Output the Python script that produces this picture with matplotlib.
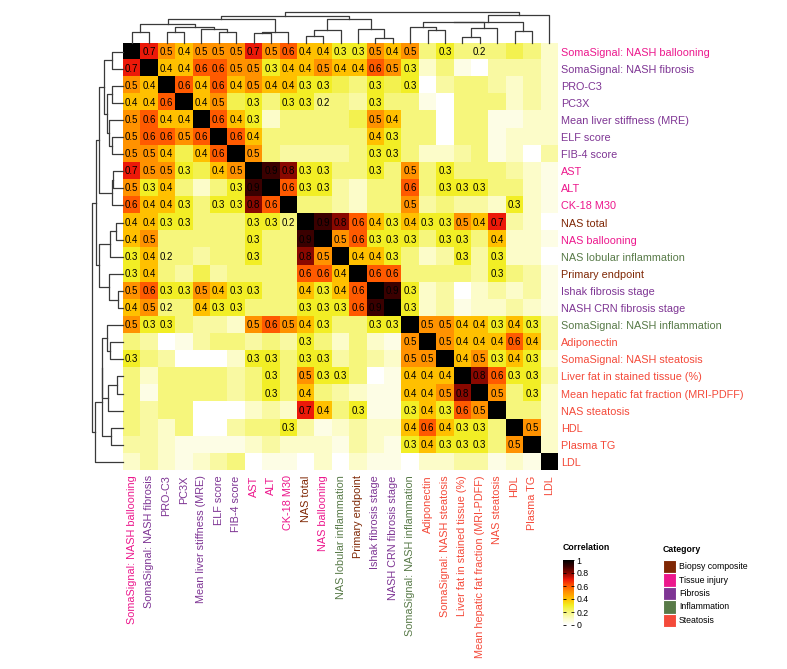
import numpy as np
import matplotlib
matplotlib.use('Agg')
import matplotlib.pyplot as plt
from matplotlib.colors import LinearSegmentedColormap, Normalize
from matplotlib.cm import ScalarMappable
from matplotlib.patches import Rectangle

plt.rcParams['font.family'] = ['Liberation Sans', 'DejaVu Sans']

labels = ['SomaSignal: NASH ballooning', 'SomaSignal: NASH fibrosis', 'PRO-C3', 'PC3X',
          'Mean liver stiffness (MRE)', 'ELF score', 'FIB-4 score', 'AST', 'ALT', 'CK-18 M30',
          'NAS total', 'NAS ballooning', 'NAS lobular inflammation', 'Primary endpoint',
          'Ishak fibrosis stage', 'NASH CRN fibrosis stage', 'SomaSignal: NASH inflammation',
          'Adiponectin', 'SomaSignal: NASH steatosis', 'Liver fat in stained tissue (%)',
          'Mean hepatic fat fraction (MRI-PDFF)', 'NAS steatosis', 'HDL', 'Plasma TG', 'LDL']
category = [1, 2, 2, 2, 2, 2, 2, 1, 1, 1, 0, 1, 3, 0, 2, 2, 3, 4, 4, 4, 4, 4, 4, 4, 4]
cat_names = ['Biopsy composite', 'Tissue injury', 'Fibrosis', 'Inflammation', 'Steatosis']
cat_colors = ['#7f2704', '#ec178c', '#7e3594', '#587a48', '#f44a3a']

# one row per variable; values in [brackets] are drawn without a number
rows = [
    "[1] 0.7 0.5 0.4 0.5 0.5 0.5 0.7 0.5 0.6 0.4 0.4 0.3 0.3 0.5 0.4 0.5 [.2] 0.3 [.2] 0.2 [.2] [.25] [.2] [.1]",
    "0.7 [1] 0.4 0.4 0.6 0.6 0.5 0.5 0.3 0.4 0.4 0.5 0.4 0.4 0.6 0.5 0.3 [.1] [.2] [.05] [0] [.15] [.15] [.15] [.1]",
    "0.5 0.4 [1] 0.6 0.4 0.6 0.4 0.5 0.4 0.4 0.3 0.3 [.25] [.2] 0.3 [.25] 0.3 [0] [.15] [.2] [.2] [.15] [.1] [.15] [.1]",
    "0.4 0.4 0.6 [1] 0.4 0.5 [.25] 0.3 [.2] 0.3 0.3 0.2 [.2] [.15] 0.3 [.2] [.2] [.05] [0] [.2] [.2] [.2] [.1] [.15] [.1]",
    "0.5 0.6 0.4 0.4 [1] 0.6 0.4 0.3 [.1] [.2] [.2] [.2] [.2] [.25] 0.5 0.4 [.2] [.2] [0] [.2] [.2] [.05] [.05] [.1] [.1]",
    "0.5 0.6 0.6 0.5 0.6 [1] 0.6 0.4 [.2] [.2] [.2] [.2] [.2] [.2] 0.4 0.3 [.2] [.2] [0] [.2] [.2] [.05] [.1] [.1] [.1]",
    "0.5 0.5 0.4 [.25] 0.4 0.6 [1] 0.5 [.2] [.15] [.15] [.15] [.15] [.2] 0.3 0.3 [.2] [.1] [.1] [.15] [.2] [.05] [.1] [0] [.15]",
    "0.7 0.5 0.5 0.3 [.25] 0.4 0.5 [1] 0.9 0.8 0.3 0.3 [.2] [.2] 0.3 [.2] 0.5 [.2] 0.3 [.2] [.2] [.2] [.15] [.1] [.05]",
    "0.5 0.3 0.4 [.2] [.1] [.2] 0.3 0.9 [1] 0.6 0.3 0.3 [.15] [.1] [.2] [.2] 0.6 [.2] 0.3 0.3 0.3 [.2] [.2] [.1] [.05]",
    "0.6 0.4 0.4 0.3 [.2] 0.3 0.3 0.8 0.6 [1] [.2] [.2] [.15] [.1] [.2] [.2] 0.5 [.15] [.2] [.15] [.15] [.1] 0.3 [.1] [.05]",
    "0.4 0.4 0.3 0.3 [.2] [.2] [.2] 0.3 0.3 0.2 [1] 0.9 0.8 0.6 0.4 0.3 0.4 0.3 0.3 0.5 0.4 0.7 [.15] [.1] [0]",
    "0.4 0.5 [.2] [.2] [.2] [.2] [.2] 0.3 [.2] [.2] 0.9 [1] 0.5 0.6 0.3 0.3 0.3 [.2] 0.3 0.3 [.2] 0.4 [.1] [.1] [.05]",
    "0.3 0.4 0.2 [.2] [.15] [.2] [.2] 0.3 [.2] [.2] 0.8 0.5 [1] 0.4 0.4 0.3 [.2] [.1] [.15] 0.3 [.15] 0.3 [.1] [.1] [0]",
    "0.3 0.4 [.2] [.15] [.25] [.15] [.2] [.2] [.2] [.2] 0.6 0.6 0.4 [1] 0.6 0.6 [.2] [.2] [.2] [.2] [.15] 0.3 [.2] [.15] [.05]",
    "0.5 0.6 0.3 0.3 0.5 0.4 0.3 0.3 [.2] [.2] 0.4 0.3 0.4 0.6 [1] 0.9 0.3 [.1] [.15] [0] [.1] [.15] [.1] [.15] [.05]",
    "0.4 0.5 0.2 [.2] 0.4 0.3 0.3 [.2] [.2] [.2] 0.3 0.3 0.3 0.6 0.9 [1] 0.3 [.1] [.15] [.05] [.1] [.1] [.15] [.1] [.05]",
    "0.5 0.3 0.3 [.2] [.15] [.15] [.1] 0.5 0.6 0.5 0.4 0.3 [.2] [.2] 0.3 0.3 [1] 0.5 0.5 0.4 0.4 0.3 0.4 0.3 [.15]",
    "[.2] [.15] [0] [.05] [.15] [.2] [.2] [.15] [.2] [.15] 0.3 [.2] [.1] [.2] [.1] [.05] 0.5 [1] 0.5 0.4 0.4 0.4 0.6 0.4 [.15]",
    "0.3 [.2] [.15] [0] [0] [0] [.1] 0.3 0.3 [.2] 0.3 0.3 [.15] [.2] [.15] [.1] 0.5 0.5 [1] 0.4 0.5 0.3 0.4 0.3 [.1]",
    "[.2] [.1] [.2] [.2] [.2] [.2] [.15] [.2] 0.3 [.2] 0.5 0.3 0.3 [.2] [0] [.05] 0.4 0.4 0.4 [1] 0.8 0.6 0.3 0.3 [.15]",
    "[.2] [.05] [.2] [.2] [.2] [.2] [.15] [.2] 0.3 [.2] 0.4 [.2] [.15] [.1] [.05] [.05] 0.4 0.4 0.5 0.8 [1] 0.5 [.2] 0.3 [.1]",
    "[.2] [.15] [.2] [.2] [0] [0] [0] [.1] [.15] [.1] 0.7 0.4 [.2] 0.3 [.05] [.05] 0.3 0.4 0.3 0.6 0.5 [1] [.2] [.2] [.1]",
    "[.2] [.15] [.1] [.2] [0] [0] [.15] [.2] [.2] 0.3 [.15] [.05] [.1] [.15] [.1] [.1] 0.4 0.6 0.4 0.3 0.3 [.2] [1] 0.5 [.1]",
    "[.15] [.15] [.1] [.05] [.05] [.05] [.05] [.1] [.15] [.1] [.1] [.1] [.05] [.15] [.1] [.05] 0.3 0.4 0.3 0.3 0.3 [.2] 0.5 [1] [.1]",
    "[.1] [.15] [.1] [.05] [.1] [.15] [.2] [0] [.05] [.05] [0] [.1] [0] [.1] [.05] [.05] [0] [.1] [.1] [.15] [.15] [.05] [.1] [.05] [1]",
]

# hierarchical clustering: (child a, child b, height); ids >= 25 are earlier merges
merges = [
    (0, 1, 10.7), (2, 3, 11.3), (5, 6, 10.7), (4, 27, 14.0), (26, 28, 16.3),
    (25, 29, 18.7), (7, 8, 9.7), (31, 9, 10.7), (30, 32, 24.0), (10, 11, 7.5),
    (34, 12, 13.0), (14, 15, 5.3), (13, 36, 14.0), (35, 37, 24.0), (33, 38, 27.0),
    (17, 18, 13.0), (16, 40, 16.3), (19, 20, 6.3), (42, 21, 14.7), (22, 23, 12.0),
    (41, 43, 20.7), (45, 44, 21.3), (46, 24, 28.7), (39, 47, 31.3),
]

tokens = [r.split() for r in rows]
corr = np.array([[float(t.strip('[]')) for t in r] for r in tokens])
shown = [[not t.startswith('[') for t in r] for r in tokens]
n = len(labels)

cmap = LinearSegmentedColormap.from_list('heat', [
    (0.0, '#ffffff'), (0.1, '#fcfcc8'), (0.2, '#f6f67c'), (0.3, '#f2ee24'),
    (0.4, '#ffc000'), (0.5, '#ff9400'), (0.6, '#ff5a00'), (0.7, '#ee1a0a'),
    (0.8, '#8a0800'), (0.9, '#3c0000'), (1.0, '#000000')])

W, H = 787, 669
def fx(p):
    return p / W
def fy(p):
    return 1 - p / H

fig = plt.figure(figsize=(W / 100, H / 100), dpi=100)

# heatmap
ax = fig.add_axes([fx(123), fy(470.5), 435 / W, 427.5 / H])
ax.imshow(corr, cmap=cmap, vmin=0, vmax=1, aspect='auto', interpolation='nearest',
          extent=(0, n, n, 0))
for i in range(n):
    for j in range(n):
        if shown[i][j]:
            ax.text(j + 0.5, i + 0.5, f'{corr[i, j]:.1f}', ha='center', va='center',
                    fontsize=7, color='black')
ax.set_xlim(0, n)
ax.set_ylim(n, 0)
for s in ax.spines.values():
    s.set_visible(False)
ax.set_xticks(np.arange(n) + 0.5)
ax.set_xticklabels(labels, rotation=90, fontsize=7.8)
ax.set_yticks(np.arange(n) + 0.5)
ax.set_yticklabels(labels, fontsize=7.8)
ax.yaxis.tick_right()
ax.tick_params(length=0, pad=2.5)
ax.tick_params(axis='x', pad=3.5)
for lab, c in zip(ax.get_xticklabels(), category):
    lab.set_color(cat_colors[c])
for lab, c in zip(ax.get_yticklabels(), category):
    lab.set_color(cat_colors[c])

# dendrogram segments
pos = list(np.arange(n) + 0.5)
hgt = [0.0] * n
segs = []
for a, b, h in merges:
    segs.append(([pos[a], pos[a], pos[b], pos[b]], [hgt[a], h, h, hgt[b]]))
    pos.append((pos[a] + pos[b]) / 2)
    hgt.append(h)
top_h = merges[-1][2]

axt = fig.add_axes([fx(123), fy(43), 435 / W, 31 / H])
for xs, ys in segs:
    axt.plot(xs, ys, color='#3a3a3a', lw=0.9, clip_on=False)
axt.set_xlim(0, n)
axt.set_ylim(0, top_h)
axt.axis('off')

axl = fig.add_axes([fx(92), fy(470.5), 31 / W, 427.5 / H])
for xs, ys in segs:
    axl.plot(ys, xs, color='#3a3a3a', lw=0.9, clip_on=False)
axl.set_ylim(n, 0)
axl.set_xlim(top_h, 0)
axl.axis('off')

# colour legend
fig.text(fx(563), fy(548), 'Correlation', fontsize=6.3, fontweight='bold', va='center')
cax = fig.add_axes([fx(563), fy(625), 11 / W, 65 / H])
cb = fig.colorbar(ScalarMappable(norm=Normalize(0, 1), cmap=cmap), cax=cax,
                  ticks=[0, 0.2, 0.4, 0.6, 0.8, 1])
cb.ax.set_yticklabels(['0', '0.2', '0.4', '0.6', '0.8', '1'])
cb.outline.set_visible(False)
cb.ax.tick_params(left=True, right=True, direction='in', length=2, width=0.6,
                  labelsize=6.3, pad=2)

# category legend
fig.text(fx(663), fy(550), 'Category', fontsize=6.3, fontweight='bold', va='center')
for k, (name, col) in enumerate(zip(cat_names, cat_colors)):
    y0 = 560 + k * 13.4
    fig.patches.append(Rectangle((fx(663), fy(y0 + 13.4)), 12.6 / W, 13.4 / H,
                                 transform=fig.transFigure, facecolor=col,
                                 edgecolor='white', lw=0.8))
    fig.text(fx(679), fy(y0 + 6.7), name, fontsize=6.3, va='center')

fig.savefig('out.png', dpi=100)
